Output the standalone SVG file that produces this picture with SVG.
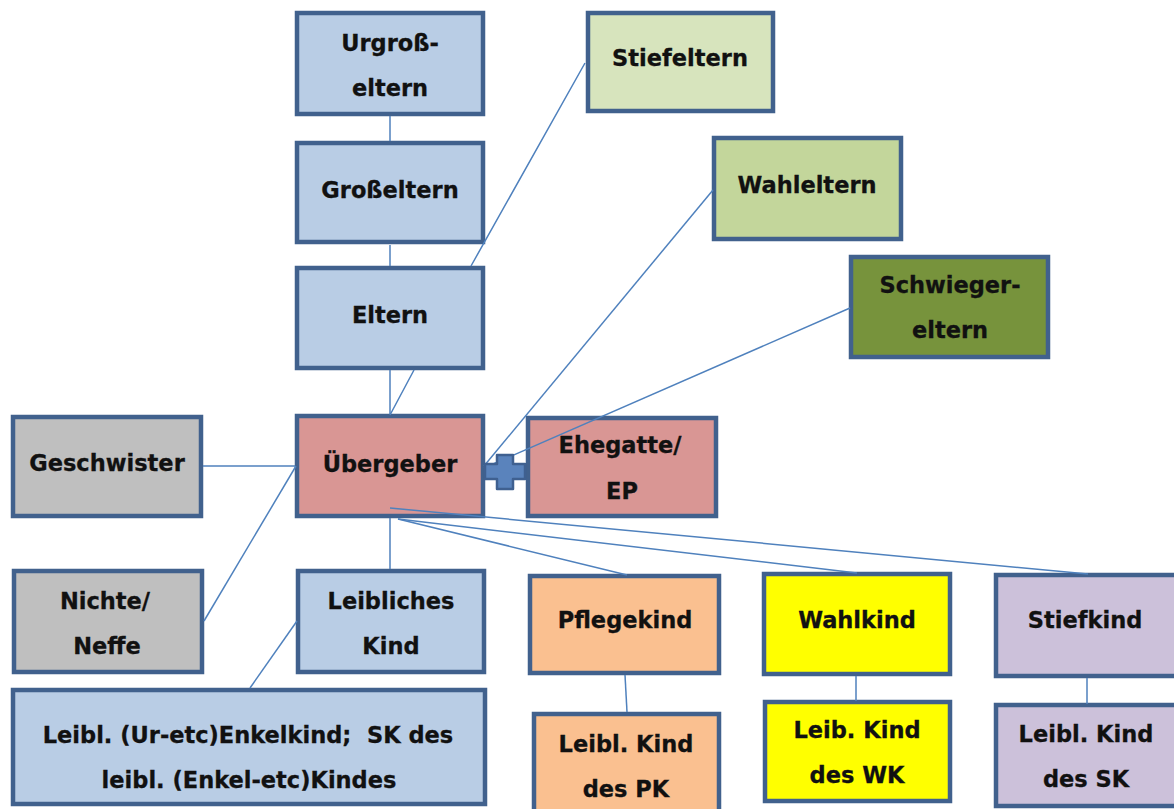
<svg xmlns="http://www.w3.org/2000/svg" width="1174" height="809" viewBox="0 0 1174 809">
<style>
.box{stroke:#41618d;stroke-width:4.5}
.blue{fill:#b9cde5}.pink{fill:#d99694}.grey{fill:#bfbfbf}
.sf{fill:#d7e4bd}.we{fill:#c3d69b}.sw{fill:#77933c}
.pk{fill:#fac090}.wk{fill:#ffff00}.sk{fill:#ccc1da}
text{font-family:"DejaVu Sans",Verdana,sans-serif;font-weight:bold;font-size:22.5px;fill:#111;stroke:#111;stroke-width:0.3;text-anchor:middle}
.con{stroke:#4f81bd;stroke-width:1.5;fill:none}
</style>
<rect width="1174" height="809" fill="#fff"/>
<g id="urgrosseltern"><rect class="box blue" x="297" y="13" width="186" height="101"/><text x="390" y="51">Urgroß-</text><text x="390" y="96">eltern</text></g>
<g id="grosseltern"><rect class="box blue" x="297" y="143" width="186" height="99"/><text x="390" y="198">Großeltern</text></g>
<g id="eltern"><rect class="box blue" x="297" y="268" width="186" height="100"/><text x="390" y="323">Eltern</text></g>
<g id="stiefeltern"><rect class="box sf" x="588" y="13" width="185" height="98"/><text x="680" y="66">Stiefeltern</text></g>
<g id="wahleltern"><rect class="box we" x="714" y="138" width="187" height="101"/><text x="807" y="193">Wahleltern</text></g>
<g id="schwiegereltern"><rect class="box sw" x="851" y="257" width="197" height="100"/><text x="950" y="293">Schwieger-</text><text x="950" y="338">eltern</text></g>
<g id="geschwister"><rect class="box grey" x="13" y="417" width="188" height="99"/><text x="107" y="471">Geschwister</text></g>
<g id="uebergeber"><rect class="box pink" x="297" y="416" width="186" height="100"/><text x="390" y="472">Übergeber</text></g>
<g id="ehegatte"><rect class="box pink" x="528" y="418" width="188" height="98"/><text x="620" y="453">Ehegatte/</text><text x="622" y="499">EP</text></g>
<g id="nichte"><rect class="box grey" x="14" y="571" width="188" height="101"/><text x="105" y="609">Nichte/</text><text x="107" y="654">Neffe</text></g>
<g id="leibliches-kind"><rect class="box blue" x="298" y="571" width="186" height="101"/><text x="391" y="609">Leibliches</text><text x="391" y="654">Kind</text></g>
<g id="enkelkind"><rect class="box blue" x="13" y="690" width="472" height="114"/><text x="248" y="743">Leibl. (Ur-etc)Enkelkind;&#160; SK des</text><text x="249" y="788">leibl. (Enkel-etc)Kindes</text></g>
<g id="pflegekind"><rect class="box pk" x="530" y="576" width="189" height="97"/><text x="625" y="628">Pflegekind</text></g>
<g id="wahlkind"><rect class="box wk" x="764" y="574" width="186" height="100"/><text x="857" y="628">Wahlkind</text></g>
<g id="stiefkind"><rect class="box sk" x="996" y="575" width="190" height="101"/><text x="1085" y="628">Stiefkind</text></g>
<g id="kind-pk"><rect class="box pk" x="534" y="714" width="185" height="100"/><text x="626" y="752">Leibl. Kind</text><text x="626" y="797">des PK</text></g>
<g id="kind-wk"><rect class="box wk" x="765" y="702" width="185" height="99"/><text x="857" y="738">Leib. Kind</text><text x="857" y="783">des WK</text></g>
<g id="kind-sk"><rect class="box sk" x="996" y="705" width="190" height="101"/><text x="1086" y="742">Leibl. Kind</text><text x="1086" y="787">des SK</text></g>
<g id="connectors" class="con">
<path d="M390 116V141"/>
<path d="M390 245V266"/>
<path d="M390 370V414"/>
<path d="M585 63L471 266M414 370L390 415"/>
<path d="M713 190L484 466"/>
<path d="M850 308L484 468"/>
<path d="M203 466H295"/>
<path d="M204 621L296 466"/>
<path d="M390 518V569"/>
<path d="M250 688L297 621"/>
<path d="M398 519L627 575"/>
<path d="M398 519L857 573"/>
<path d="M390 508L1088 574"/>
<path d="M625 675L627 712"/>
<path d="M856 676V701"/>
<path d="M1087 678V704"/>
</g>
<g id="plus"><path d="M497 455H513V464H525V479H513V489H497V479H485V464H497Z" fill="#5a83bc" stroke="#3f6090" stroke-width="2.5" stroke-linejoin="round"/></g>
</svg>
